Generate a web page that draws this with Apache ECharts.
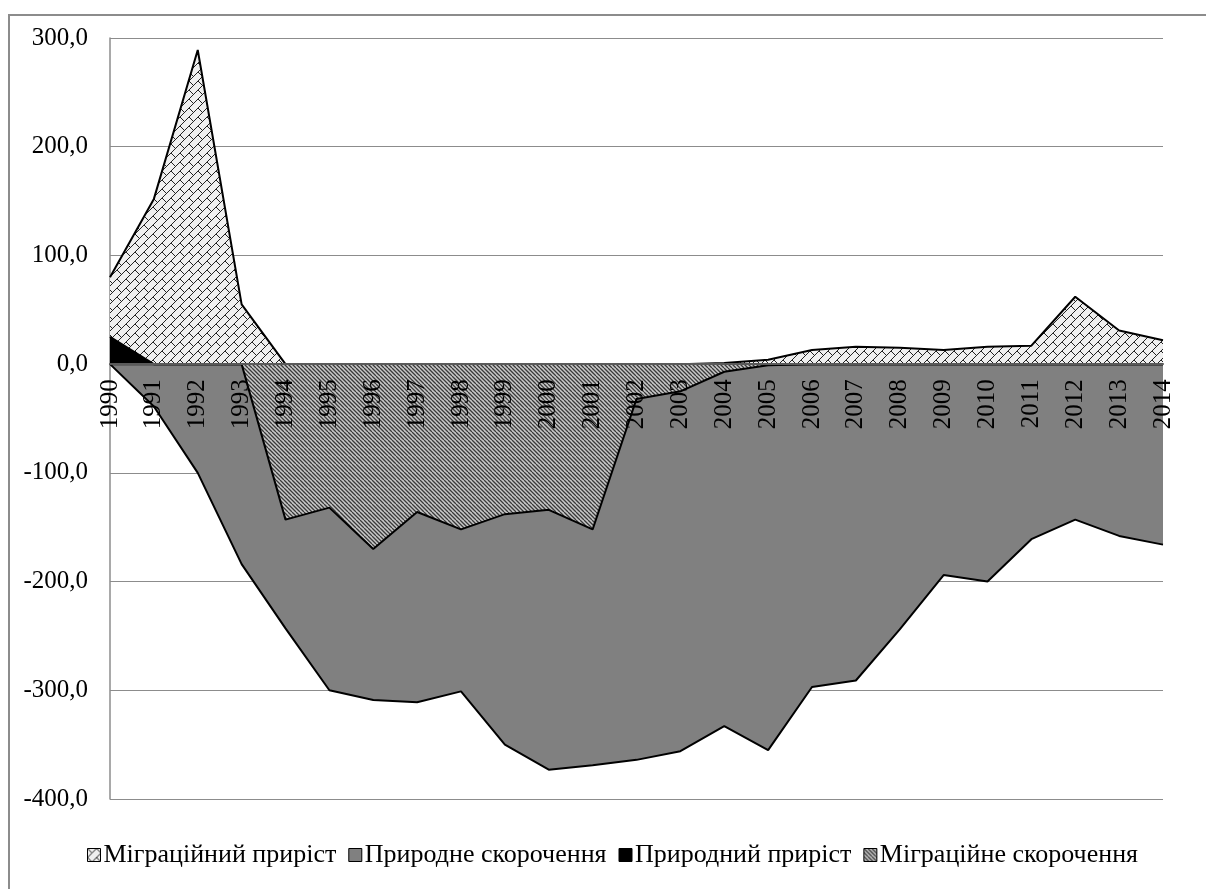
<!DOCTYPE html>
<html>
<head>
<meta charset="utf-8">
<script src="https://cdn.jsdelivr.net/npm/echarts@6/dist/echarts.min.js"></script>
<style>
  html, body { margin: 0; padding: 0; background: #fff; }
  #chart { width: 1206px; height: 889px; }
</style>
</head>
<body>
<div id="chart"></div>
<script>
const years = ['1990', '1991', '1992', '1993', '1994', '1995', '1996', '1997', '1998', '1999',
  '2000', '2001', '2002', '2003', '2004', '2005', '2006', '2007', '2008', '2009',
  '2010', '2011', '2012', '2013', '2014']

// тис. осіб
const migrationGain = [80, 152, 289, 55, 0, 0, 0, 0, 0, 0,
  0, 0, 0, 0, 1, 4, 13, 16, 15, 13,
  16, 17, 62, 31, 22]
const naturalDecrease = [0, -39, -100, -184, -243, -300, -309, -311, -301, -350,
  -373, -369, -364, -356, -333, -355, -297, -291, -244, -194,
  -200, -161, -143, -158, -166]
const naturalGain = [25, 0, 0, 0, 0, 0, 0, 0, 0, 0,
  0, 0, 0, 0, 0, 0, 0, 0, 0, 0,
  0, 0, 0, 0, 0]
const migrationLoss = [0, 0, 0, 0, -143, -132, -170, -136, -152, -138,
  -134, -152, -32, -25, -7, -1, 0, 0, 0, 0,
  0, 0, 0, 0, 0]

const yTicks = [-400, -300, -200, -100, 0, 100, 200, 300]

// цеглинки по діагоналі
function brickPattern() {
  const st = 9
  const size = st * 2
  const c = document.createElement('canvas')
  c.width = size
  c.height = size
  const ctx = c.getContext('2d')
  ctx.fillStyle = '#efefef'
  ctx.fillRect(0, 0, size, size)
  ctx.strokeStyle = '#222'
  ctx.lineWidth = 1
  ctx.beginPath()
  for (let s = -size; s <= size * 3; s += st) {
    ctx.moveTo(s, 0)
    ctx.lineTo(s - size, size)
  }
  for (let k = -4; k <= 8; k++) {
    const off = (((k % 2) + 2) % 2) * st
    for (let d = -size * 3 + off; d <= size * 3; d += size) {
      const s0 = st * k
      const s1 = st * k + st
      ctx.moveTo((s0 + d) / 2, (s0 - d) / 2)
      ctx.lineTo((s1 + d) / 2, (s1 - d) / 2)
    }
  }
  ctx.stroke()
  return c
}

// густі косі лінії
function hatchPattern() {
  const c = document.createElement('canvas')
  c.width = 8
  c.height = 8
  const ctx = c.getContext('2d')
  ctx.fillStyle = '#c8c8c8'
  ctx.fillRect(0, 0, 8, 8)
  ctx.strokeStyle = '#3a3a3a'
  ctx.lineWidth = 1.3
  ctx.beginPath()
  for (let s = -8; s <= 16; s += 4) {
    ctx.moveTo(s, 0)
    ctx.lineTo(s + 8, 8)
  }
  ctx.stroke()
  return c
}

const brick = { image: brickPattern(), repeat: 'repeat' }
const hatch = { image: hatchPattern(), repeat: 'repeat' }

const font = 'Liberation Serif'

const gridTop = 38
const gridBottom = 90
const chartHeight = 889
// зсув осі X до нульової лінії
const plotH = chartHeight - gridTop - gridBottom
const zeroOffset = -plotH * (0 - yTicks[0]) / (yTicks[yTicks.length - 1] - yTicks[0])

const chart = echarts.init(document.getElementById('chart'))

function areaSeries(name, data, fill, z) {
  return {
    name: name,
    type: 'line',
    data: data,
    symbol: 'none',
    z: z,
    lineStyle: { color: '#000', width: 2 },
    itemStyle: { color: fill, borderColor: '#000', borderWidth: 1 },
    areaStyle: { color: fill, opacity: 1 },
    animation: false
  }
}

chart.setOption({
  animation: false,
  graphic: [{
    type: 'rect',
    shape: { x: 9, y: 15, width: 1220, height: 900 },
    style: { fill: 'none', stroke: '#8c8c8c', lineWidth: 2 },
    silent: true
  }],
  grid: { left: 110, right: 43, top: gridTop, bottom: gridBottom },
  legend: {
    bottom: 16,
    left: 82,
    icon: 'rect',
    itemWidth: 13,
    itemHeight: 13,
    itemGap: 12,
    textStyle: { fontFamily: font, fontSize: 26, color: '#000', padding: [0, 0, 0, -2] },
    data: [
      { name: 'Міграційний приріст', itemStyle: { color: brick, borderColor: '#000', borderWidth: 1 } },
      { name: 'Природне скорочення', itemStyle: { color: '#808080', borderColor: '#000', borderWidth: 1 } },
      { name: 'Природний приріст', itemStyle: { color: '#000', borderColor: '#000', borderWidth: 1 } },
      { name: 'Міграційне скорочення', itemStyle: { color: hatch, borderColor: '#000', borderWidth: 1 } }
    ]
  },
  xAxis: {
    type: 'category',
    data: years,
    boundaryGap: false,
    z: 10,
    offset: zeroOffset,
    axisLine: { onZero: false, lineStyle: { color: '#5a5a5a', width: 2 } },
    axisTick: { show: false },
    axisLabel: {
      rotate: 90,
      margin: 15,
      fontFamily: font,
      fontSize: 25,
      color: '#000',
      interval: 0
    },
    splitLine: { show: false }
  },
  yAxis: {
    type: 'value',
    min: yTicks[0],
    max: yTicks[yTicks.length - 1],
    interval: 100,
    axisLine: { show: true, lineStyle: { color: '#8c8c8c', width: 1.5 } },
    axisTick: { show: false },
    axisLabel: {
      margin: 22,
      fontFamily: font,
      fontSize: 25,
      color: '#000',
      formatter: v => v.toFixed(1).replace('.', ',')
    },
    splitLine: { lineStyle: { color: '#8c8c8c', width: 1.2 } }
  },
  series: [
    areaSeries('Міграційний приріст', migrationGain, brick, 2),
    areaSeries('Природне скорочення', naturalDecrease, '#808080', 3),
    areaSeries('Природний приріст', naturalGain, '#000', 4),
    areaSeries('Міграційне скорочення', migrationLoss, hatch, 5)
  ]
})
</script>
</body>
</html>
